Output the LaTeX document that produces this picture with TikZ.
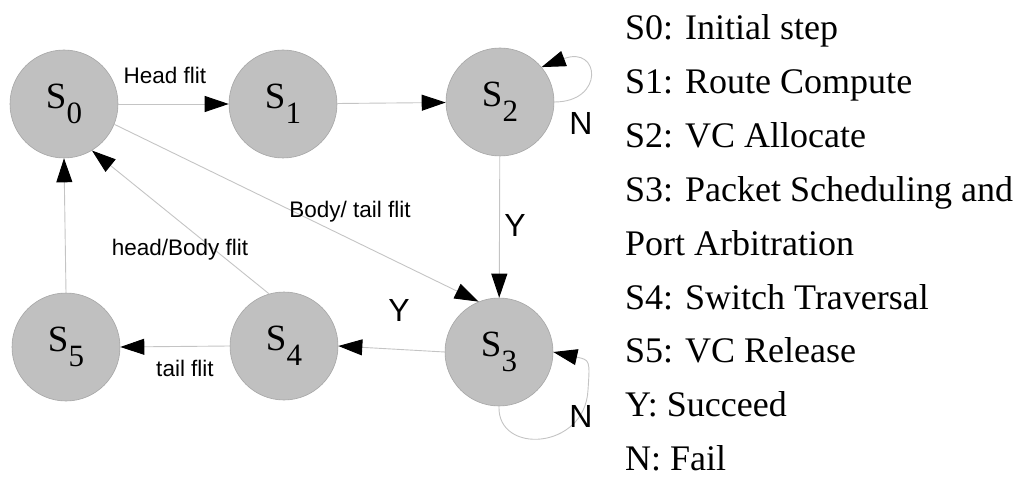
\documentclass[tikz,border=0pt]{standalone}
\usepackage{fontspec}
\setmainfont{Liberation Serif}
\newfontfamily\arialfont{Liberation Sans}
\usetikzlibrary{arrows.meta}
\definecolor{stfill}{HTML}{C0C0C0}
\definecolor{stdraw}{HTML}{A6A6A6}
\definecolor{edgecol}{HTML}{C4C4C4}
\newcommand\stname[1]{S\raisebox{-15pt}{\fontsize{31}{31}\selectfont #1}}
\begin{document}
\begin{tikzpicture}[x=1pt,y=-1pt,
  state/.style={circle,fill=stfill,draw=stdraw,line width=0.6pt,minimum size=108pt,inner sep=0pt,font=\fontsize{37}{37}\selectfont},
  edge/.style={draw=edgecol,line width=0.9pt,-{Triangle[length=24pt,width=16pt,black]}},
  elabel/.style={inner sep=0pt,font=\arialfont\fontsize{22.5}{22.5}\selectfont},
  yn/.style={inner sep=0pt,font=\arialfont\fontsize{32}{32}\selectfont},
  legend/.style={anchor=base west,inner sep=0pt,font=\fontsize{36}{36}\selectfont}]
\useasboundingbox (0,0) rectangle (1016,478);
% states
\node[state] (S0) at (64,104) {\stname{0}};
\node[state] (S1) at (283,104) {\stname{1}};
\node[state] (S2) at (500,102) {\stname{2}};
\node[state] (S3) at (499,352) {\stname{3}};
\node[state] (S4) at (284,346) {\stname{4}};
\node[state] (S5) at (66,347) {\stname{5}};
% edges
\draw[edge] (S0) -- (S1);
\draw[edge] (S1) -- (S2);
\draw[edge] (S2) -- (S3);
\draw[edge] (S0.-22) -- (S3.112);
\draw[edge] (S3.west) -- (S4.east);
\draw[edge] (S4.west) -- (S5.east);
\draw[edge] (S4.106) -- (S0.-59);
\draw[edge] (S5.north) -- (S0.south);
\draw[edge] (S2.east) .. controls (605,102) and (600,45) .. (S2.40);
\draw[edge] (S3.south) .. controls (497,455) and (585,450) .. (588,390) .. controls (590,360) .. (S3.east);
% edge labels
\node[elabel] (lhead) at (165,75) {Head flit};
\node[elabel] (lbody) at (350,212) {Body/ tail flit};
\node[elabel] (lhb) at (180,250) {head/Body flit};
\node[elabel] (ltail) at (185,368) {tail flit};
\node[yn] (ly1) at (515,225) {Y};
\node[yn] (ly2) at (399,310) {Y};
\node[yn] (ln1) at (581,123) {N};
\node[yn] (ln2) at (581,416) {N};
% legend
\node[legend] (g0) at (625,40) {S0: Initial step};
\node[legend] (g1) at (625,93.8) {S1: Route Compute};
\node[legend] (g2) at (625,147.6) {S2: VC Allocate};
\node[legend] (g3) at (625,201.4) {S3: Packet Scheduling and};
\node[legend] (g4) at (625,255.2) {Port Arbitration};
\node[legend] (g5) at (625,309) {S4: Switch Traversal};
\node[legend] (g6) at (625,362.8) {S5: VC Release};
\node[legend] (g7) at (625,416.6) {Y: Succeed};
\node[legend] (g8) at (625,470.4) {N: Fail};
\end{tikzpicture}
\end{document}
